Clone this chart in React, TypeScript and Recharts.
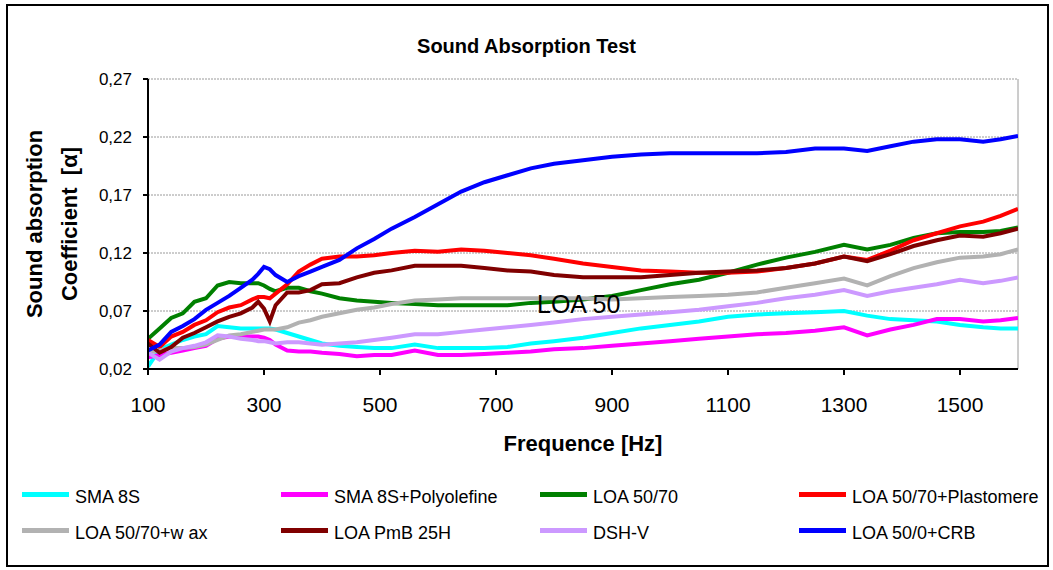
import React from 'react';
import { LineChart, Line, XAxis, YAxis, CartesianGrid, ReferenceLine } from 'recharts';

const freq = [100, 120, 140, 160, 180, 200, 220, 240, 260, 280, 290, 300, 310, 320, 340, 360, 380, 400, 430, 460, 490, 520, 560, 600, 640, 680, 720, 760, 800, 850, 900, 950, 1000, 1050, 1100, 1150, 1200, 1250, 1300, 1340, 1380, 1420, 1460, 1500, 1540, 1570, 1600];

const sma8s = [0.022, 0.037, 0.041, 0.045, 0.048, 0.050, 0.057, 0.056, 0.055, 0.055, 0.055, 0.055, 0.055, 0.054, 0.051, 0.048, 0.045, 0.042, 0.040, 0.039, 0.038, 0.038, 0.041, 0.038, 0.038, 0.038, 0.039, 0.042, 0.044, 0.047, 0.051, 0.055, 0.058, 0.061, 0.065, 0.067, 0.068, 0.069, 0.070, 0.066, 0.063, 0.062, 0.061, 0.058, 0.056, 0.055, 0.055];
const sma8sPoly = [0.030, 0.032, 0.034, 0.036, 0.038, 0.040, 0.046, 0.048, 0.048, 0.048, 0.048, 0.047, 0.045, 0.041, 0.036, 0.035, 0.035, 0.034, 0.033, 0.031, 0.032, 0.032, 0.036, 0.032, 0.032, 0.033, 0.034, 0.035, 0.037, 0.038, 0.040, 0.042, 0.044, 0.046, 0.048, 0.050, 0.051, 0.053, 0.056, 0.049, 0.054, 0.058, 0.063, 0.063, 0.061, 0.062, 0.064];
const loa5070 = [0.046, 0.055, 0.064, 0.068, 0.078, 0.081, 0.092, 0.095, 0.094, 0.094, 0.094, 0.092, 0.089, 0.087, 0.090, 0.090, 0.087, 0.085, 0.081, 0.079, 0.078, 0.077, 0.076, 0.075, 0.075, 0.075, 0.075, 0.077, 0.078, 0.080, 0.083, 0.088, 0.093, 0.097, 0.103, 0.110, 0.116, 0.121, 0.127, 0.123, 0.127, 0.133, 0.137, 0.138, 0.138, 0.139, 0.142];
const loaPlasto = [0.045, 0.039, 0.048, 0.052, 0.058, 0.062, 0.069, 0.073, 0.075, 0.080, 0.082, 0.082, 0.081, 0.085, 0.093, 0.104, 0.110, 0.115, 0.117, 0.117, 0.118, 0.120, 0.122, 0.121, 0.123, 0.122, 0.120, 0.118, 0.115, 0.111, 0.108, 0.105, 0.104, 0.103, 0.103, 0.104, 0.107, 0.111, 0.117, 0.114, 0.122, 0.131, 0.137, 0.143, 0.147, 0.152, 0.158];
const loaWax = [0.034, 0.036, 0.038, 0.038, 0.039, 0.041, 0.045, 0.049, 0.050, 0.052, 0.053, 0.054, 0.054, 0.054, 0.056, 0.060, 0.062, 0.065, 0.068, 0.071, 0.073, 0.076, 0.079, 0.080, 0.081, 0.081, 0.081, 0.081, 0.081, 0.081, 0.080, 0.081, 0.082, 0.083, 0.084, 0.086, 0.090, 0.094, 0.098, 0.092, 0.100, 0.107, 0.112, 0.116, 0.117, 0.119, 0.123];
const loaPmb = [0.042, 0.034, 0.039, 0.047, 0.051, 0.056, 0.061, 0.065, 0.068, 0.073, 0.078, 0.072, 0.061, 0.075, 0.086, 0.086, 0.088, 0.093, 0.094, 0.099, 0.103, 0.105, 0.109, 0.109, 0.109, 0.107, 0.105, 0.104, 0.101, 0.099, 0.099, 0.099, 0.101, 0.103, 0.104, 0.105, 0.107, 0.111, 0.117, 0.113, 0.119, 0.126, 0.131, 0.135, 0.134, 0.137, 0.141];
const dshV = [0.034, 0.028, 0.035, 0.038, 0.040, 0.043, 0.049, 0.048, 0.046, 0.045, 0.044, 0.044, 0.043, 0.042, 0.043, 0.043, 0.042, 0.041, 0.042, 0.043, 0.045, 0.047, 0.050, 0.050, 0.052, 0.054, 0.056, 0.058, 0.060, 0.063, 0.065, 0.067, 0.069, 0.071, 0.074, 0.077, 0.081, 0.084, 0.088, 0.083, 0.087, 0.090, 0.093, 0.097, 0.094, 0.096, 0.099];
const loaCrb = [0.036, 0.041, 0.052, 0.057, 0.063, 0.071, 0.077, 0.083, 0.090, 0.097, 0.102, 0.108, 0.106, 0.101, 0.095, 0.100, 0.104, 0.108, 0.114, 0.124, 0.132, 0.141, 0.151, 0.162, 0.173, 0.181, 0.187, 0.193, 0.197, 0.200, 0.203, 0.205, 0.206, 0.206, 0.206, 0.206, 0.207, 0.210, 0.210, 0.208, 0.212, 0.216, 0.218, 0.218, 0.216, 0.218, 0.221];

const xTicks = [100, 300, 500, 700, 900, 1100, 1300, 1500];
const yTicks = [0.02, 0.07, 0.12, 0.17, 0.22, 0.27];

const series = [
  { key: 'sma8s', name: 'SMA 8S', color: '#00FFFF', values: sma8s },
  { key: 'sma8sPoly', name: 'SMA 8S+Polyolefine', color: '#FF00FF', values: sma8sPoly },
  { key: 'loa5070', name: 'LOA 50/70', color: '#008000', values: loa5070 },
  { key: 'loaPlasto', name: 'LOA 50/70+Plastomere', color: '#FF0000', values: loaPlasto },
  { key: 'loaWax', name: 'LOA 50/70+w ax', color: '#B2B2B2', values: loaWax },
  { key: 'loaPmb', name: 'LOA PmB 25H', color: '#800000', values: loaPmb },
  { key: 'dshV', name: 'DSH-V', color: '#CC99FF', values: dshV },
  { key: 'loaCrb', name: 'LOA 50/0+CRB', color: '#0000FF', values: loaCrb },
];

const data = freq.map((f, i) => {
  const row: Record<string, number> = { f };
  series.forEach((s) => {
    row[s.key] = s.values[i];
  });
  return row;
});

const FONT = '"Liberation Sans", Arial, sans-serif';

export default function App() {
  return (
    <div style={{ position: 'absolute', left: 0, top: 0, width: 1053, height: 570, background: '#fff', fontFamily: FONT }}>
      <div style={{ position: 'absolute', left: 6, top: 4, width: 1043, height: 563, border: '2px solid #000', boxSizing: 'border-box' }} />
      <div style={{ position: 'absolute', left: 0, top: 0 }}>
        <LineChart width={1053} height={570} data={data} margin={{ top: 79, right: 35, bottom: 161, left: 88 }}>
          <CartesianGrid horizontal={true} vertical={false} stroke="#9a9a9a" strokeWidth={1} strokeDasharray="2 1" />
          <XAxis
            dataKey="f"
            type="number"
            domain={[100, 1600]}
            ticks={xTicks}
            height={40}
            axisLine={{ stroke: '#000', strokeWidth: 2 }}
            tickLine={{ stroke: '#000', strokeWidth: 2 }}
            tickSize={6}
            tickMargin={22}
            tick={{ fill: '#000', fontSize: 21, fontFamily: FONT }}
            allowDataOverflow
          />
          <YAxis
            type="number"
            domain={[0.02, 0.27]}
            ticks={yTicks}
            width={60}
            axisLine={{ stroke: '#000', strokeWidth: 2 }}
            tickLine={{ stroke: '#000', strokeWidth: 2 }}
            tickSize={5}
            tickMargin={11}
            tick={{ fill: '#000', fontSize: 17, fontFamily: FONT }}
            tickFormatter={(v: number) => v.toFixed(2).replace('.', ',')}
            allowDataOverflow
          />
          <ReferenceLine x={1600} stroke="#9a9a9a" strokeWidth={1} />
          {series.map((s) => (
            <Line
              key={s.key}
              dataKey={s.key}
              name={s.name}
              stroke={s.color}
              strokeWidth={4}
              dot={false}
              type="linear"
              isAnimationActive={false}
            />
          ))}
        </LineChart>
      </div>
      <div style={{ position: 'absolute', left: 0, width: 1053, top: 36, textAlign: 'center', fontSize: 20, fontWeight: 'bold', lineHeight: 1 }}>
        Sound Absorption Test
      </div>
      <div style={{ position: 'absolute', left: 35, top: 224, transform: 'translate(-50%, -50%) rotate(-90deg)', whiteSpace: 'nowrap', fontSize: 22, fontWeight: 'bold', lineHeight: 1 }}>
        Sound absorption
      </div>
      <div style={{ position: 'absolute', left: 70, top: 224, transform: 'translate(-50%, -50%) rotate(-90deg)', whiteSpace: 'nowrap', fontSize: 22, fontWeight: 'bold', lineHeight: 1 }}>
        Coefficient&nbsp;&nbsp;[α]
      </div>
      <div style={{ position: 'absolute', left: 583, top: 433, transform: 'translateX(-50%)', whiteSpace: 'nowrap', fontSize: 22, fontWeight: 'bold', lineHeight: 1 }}>
        Frequence [Hz]
      </div>
      <div style={{ position: 'absolute', left: 537, top: 292, whiteSpace: 'nowrap', fontSize: 25, lineHeight: 1 }}>
        LOA 50
      </div>
      {series.map((s, i) => {
        const col = i % 4;
        const row = Math.floor(i / 4);
        const x = 22 + col * 259;
        const textTop = row === 0 ? 488 : 524;
        const lineTop = row === 0 ? 492 : 528;
        return (
          <React.Fragment key={s.key}>
            <div style={{ position: 'absolute', left: x, top: lineTop, width: 47, height: 5, background: s.color }} />
            <div style={{ position: 'absolute', left: x + 53, top: textTop, whiteSpace: 'nowrap', fontSize: 18, lineHeight: 1 }}>{s.name}</div>
          </React.Fragment>
        );
      })}
    </div>
  );
}
